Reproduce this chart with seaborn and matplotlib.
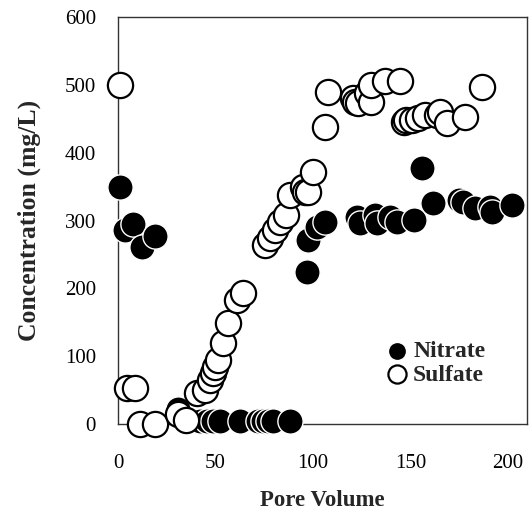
import matplotlib
matplotlib.use("Agg")
import matplotlib.pyplot as plt
import seaborn as sns
import pandas as pd

# Nitrate breakthrough data
nitrate_pv = [1, 3.6, 7.7, 12.3, 19, 31, 42, 45.6, 48.7, 52.3, 62.6, 71.8, 74.4, 77,
              79.5, 88, 97, 97.5, 102, 106, 122.5, 124, 132, 133, 139.5, 143, 152,
              156, 161.5, 175, 177, 183, 191, 192, 202]
nitrate_conc = [350, 286, 295, 261, 277, 22, 4, 4, 4, 4, 4, 4, 4, 4,
                4, 4, 224, 271, 290, 298, 305, 296, 308, 296, 305, 298, 301,
                378, 326, 330, 327, 318, 320, 313, 323]

# Sulfate breakthrough data
sulfate_pv = [1, 4.6, 8.7, 11, 19, 31, 35, 40.5, 44.6, 47, 48.7, 49.7, 51.3, 54,
              56.6, 61, 64, 75.4, 78, 80.5, 83, 86, 88, 95, 96, 97.5, 100, 106,
              107.7, 120.5, 121.5, 123, 128, 130, 130, 137, 144.6, 147, 148, 151,
              154, 157.5, 163.5, 165, 168.7, 178, 187]
sulfate_conc = [500, 53, 53, 0, 0, 14, 6, 46, 50, 65, 75, 84, 94, 119,
                149, 183, 193, 264, 274, 286, 298, 308, 338, 350, 342, 342, 372, 438,
                490, 481, 475, 473, 488, 475, 500, 505, 505, 445, 448, 448,
                451, 456, 456, 460, 444, 453, 497]

x_ticks = [0, 50, 100, 150, 200]
y_ticks = [0, 100, 200, 300, 400, 500, 600]

df_n = pd.DataFrame({"Pore Volume": nitrate_pv, "Concentration": nitrate_conc})
df_s = pd.DataFrame({"Pore Volume": sulfate_pv, "Concentration": sulfate_conc})

sns.set_style("white")
plt.rcParams["font.family"] = ["Liberation Serif", "DejaVu Serif"]

fig = plt.figure(figsize=(5.32, 5.17), dpi=100)
ax = fig.add_axes([0.222, 0.18, 0.769, 0.787])

sns.scatterplot(data=df_n, x="Pore Volume", y="Concentration", ax=ax,
                color="black", edgecolor="white", linewidth=1.0, s=330,
                label="Nitrate", zorder=3, clip_on=False)
sns.scatterplot(data=df_s, x="Pore Volume", y="Concentration", ax=ax,
                color="white", edgecolor="black", linewidth=1.6, s=330,
                label="Sulfate", zorder=4, clip_on=False)

ax.set_xlim(0, 210)
ax.set_ylim(0, 600)
ax.set_xticks(x_ticks)
ax.set_yticks(y_ticks)
ax.tick_params(direction="in", length=3, width=0.6, colors="#555555",
               labelcolor="black", labelsize=15)
ax.tick_params(axis="x", pad=22)
ax.tick_params(axis="y", pad=16)
for sp in ax.spines.values():
    sp.set_visible(True)
    sp.set_color("#333333")
    sp.set_linewidth(1.0)

ax.set_xlabel("Pore Volume", fontsize=16.5, fontweight="bold", labelpad=12)
ax.set_ylabel("Concentration (mg/L)", fontsize=18.5, fontweight="bold", labelpad=17)

leg = ax.legend(loc="center left", bbox_to_anchor=(0.60, 0.15), frameon=False,
                markerscale=0.72, handletextpad=0.2, labelspacing=0.1,
                handlelength=1.0, prop={"size": 17, "weight": "bold"})

fig.savefig("out.png", dpi=100)
